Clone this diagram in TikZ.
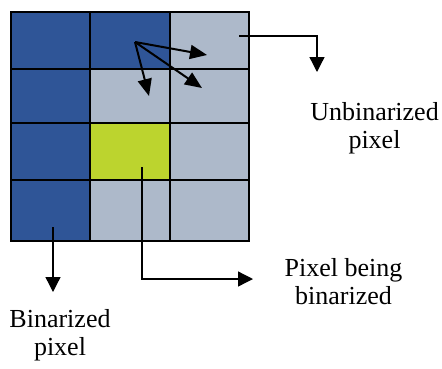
\documentclass[tikz,border=0pt]{standalone}
\usepackage{fontspec}
\setmainfont{Liberation Serif}
\usetikzlibrary{positioning, arrows.meta}

\definecolor{donecol}{HTML}{2F5597}
\definecolor{opencol}{HTML}{ADB9CA}
\definecolor{curcol}{HTML}{BCD42E}

\begin{document}
\begin{tikzpicture}[
	x=1pt, y=-1pt,
	cell/.style={rectangle, draw, line width=2pt, inner sep=0pt, minimum width=79.3pt},
	done/.style={cell, fill=donecol},
	open/.style={cell, fill=opencol},
	cur/.style={cell, fill=curcol},
	fan/.style={line width=2pt, -{Triangle[length=17pt, width=14pt]}},
	callout/.style={line width=1.3pt, -{Triangle[length=15pt, width=15pt]}},
	label/.style={inner sep=0pt, align=center, font=\fontsize{26}{28}\selectfont}
]
\useasboundingbox (0,0) rectangle (442,368);

% grid of pixels
\node[done, minimum height=57pt] (c11) at (50.7,40.5) {};
\node[done, minimum height=57pt] (c12) at (130,40.5) {};
\node[open, minimum height=57pt] (c13) at (209.3,40.5) {};
\node[done, minimum height=54pt] (c21) at (50.7,96) {};
\node[open, minimum height=54pt] (c22) at (130,96) {};
\node[open, minimum height=54pt] (c23) at (209.3,96) {};
\node[done, minimum height=57pt] (c31) at (50.7,151.5) {};
\node[cur, minimum height=57pt] (c32) at (130,151.5) {};
\node[open, minimum height=57pt] (c33) at (209.3,151.5) {};
\node[done, minimum height=61pt] (c41) at (50.7,210.5) {};
\node[open, minimum height=61pt] (c42) at (130,210.5) {};
\node[open, minimum height=61pt] (c43) at (209.3,210.5) {};

% labels
\node[label, anchor=north] (unbin) at (374.5,102) {Unbinarized\\pixel};
\node[label, anchor=north] (being) at (343.5,258) {Pixel being\\binarized};
\node[label, anchor=north] (bin) at (60,309) {Binarized\\pixel};

% arrow ends
\coordinate (src) at (135,42);
\coordinate (t1) at (207,55);
\coordinate (t2) at (202,88);
\coordinate (t3) at (149,96);
\coordinate (u0) at (239,36);
\coordinate (u1) at (317,72);
\coordinate (p0) at (142,167);
\coordinate (p1) at (253,279);
\coordinate (b0) at (53,227);
\coordinate (b1) at (53,292);

\draw[fan] (src) -- (t1);
\draw[fan] (src) -- (t2);
\draw[fan] (src) -- (t3);

\draw[callout] (u0) -| (u1);
\draw[callout] (p0) |- (p1);
\draw[callout] (b0) -- (b1);
\end{tikzpicture}
\end{document}
